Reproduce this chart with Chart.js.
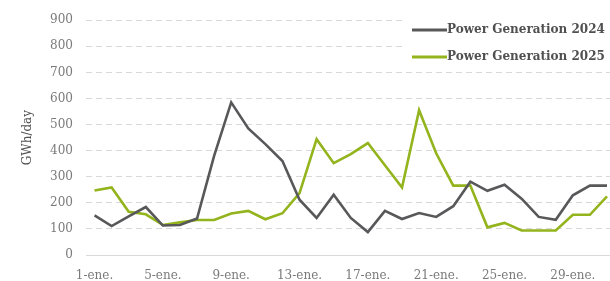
<!DOCTYPE html>
<html>
<head>
<meta charset="utf-8">
<script src="https://cdn.jsdelivr.net/npm/chart.js@4/dist/chart.umd.min.js"></script>
<style>
  html, body { margin: 0; padding: 0; background: #fff; overflow: hidden; }
  #wrap { width: 621px; height: 281px; }
</style>
</head>
<body>
<div id="wrap"><canvas id="chart" width="621" height="281"></canvas></div>
<script>
// Generación eléctrica diaria, enero 2024 vs enero 2025 (GWh/day)
const days = [
  "1-ene.", "2-ene.", "3-ene.", "4-ene.", "5-ene.", "6-ene.", "7-ene.", "8-ene.",
  "9-ene.", "10-ene.", "11-ene.", "12-ene.", "13-ene.", "14-ene.", "15-ene.", "16-ene.",
  "17-ene.", "18-ene.", "19-ene.", "20-ene.", "21-ene.", "22-ene.", "23-ene.", "24-ene.",
  "25-ene.", "26-ene.", "27-ene.", "28-ene.", "29-ene.", "30-ene.", "31-ene."
];
const gen2024 = [
  152, 111, 148, 184, 113, 115, 140, 380, 585, 485, 425, 360, 212, 142, 231, 142,
  88, 169, 138, 161, 146, 187, 281, 246, 269, 216, 146, 135, 229, 266, 266
];
const gen2025 = [
  247, 259, 166, 156, 115, 125, 134, 134, 159, 169, 137, 160, 237, 444, 352, 387,
  429, 344, 259, 555, 390, 266, 266, 106, 123, 94, 94, 94, 154, 154, 225
];
const yTicks = { min: 0, max: 900, step: 100 };

const GRAY = "#58585a";
const GREEN = "#93b41c";
const SERIF = "'DejaVu Serif', serif";

// legend drawn over the plot, top right, white box hides gridlines
const overlayLegend = {
  id: "overlayLegend",
  afterDatasetsDraw(chart) {
    const { ctx } = chart;
    ctx.save();
    ctx.fillStyle = "#fff";
    ctx.fillRect(403, 19, chart.width - 403, 47);
    chart.data.datasets.forEach((ds, i) => {
      const y = 30 + i * 27;
      ctx.strokeStyle = ds.borderColor;
      ctx.lineWidth = 3;
      ctx.beginPath();
      ctx.moveTo(412, y);
      ctx.lineTo(447, y);
      ctx.stroke();
      ctx.fillStyle = "#505050";
      ctx.font = "bold 12px " + SERIF;
      ctx.textBaseline = "middle";
      ctx.fillText(ds.label, 447, y);
    });
    ctx.restore();
  },
};

new Chart(document.getElementById("chart"), {
  type: "line",
  data: {
    labels: days,
    datasets: [
      {
        label: "Power Generation 2024",
        data: gen2024,
        borderColor: GRAY,
        borderWidth: 2.6,
        pointRadius: 0,
        tension: 0,
      },
      {
        label: "Power Generation 2025",
        data: gen2025,
        borderColor: GREEN,
        borderWidth: 2.6,
        pointRadius: 0,
        tension: 0,
      },
    ],
  },
  options: {
    responsive: false,
    animation: false,
    layout: { padding: { top: 15, right: 0, left: 0, bottom: 0 } },
    plugins: { legend: { display: false }, tooltip: { enabled: false } },
    scales: {
      x: {
        offset: true,
        grid: { display: false, drawTicks: false },
        border: { display: true, color: "#d9d9d9", width: 1 },
        ticks: {
          autoSkip: false,
          maxRotation: 0,
          padding: 14,
          color: "#7a7a7a",
          font: { family: SERIF, size: 12 },
          callback: (v, i) => (i % 4 === 0 ? days[i] : ""),
        },
        afterFit: s => { s.height = 26; },
      },
      y: {
        min: yTicks.min,
        max: yTicks.max,
        grid: {
          drawTicks: false,
          color: c => (c.tick && c.tick.value === 0 ? "rgba(0,0,0,0)" : "#d9d9d9"),
          lineWidth: 1,
        },
        border: { display: false, dash: [6, 4] },
        ticks: {
          stepSize: yTicks.step,
          padding: 13,
          color: "#7a7a7a",
          font: { family: SERIF, size: 12 },
        },
        title: {
          display: true,
          text: "GWh/day",
          color: "#505050",
          font: { family: SERIF, size: 12 },
          padding: { top: 21, bottom: 0 },
        },
        afterFit: s => { s.width = 86; },
      },
    },
  },
  plugins: [overlayLegend],
});
</script>
</body>
</html>
